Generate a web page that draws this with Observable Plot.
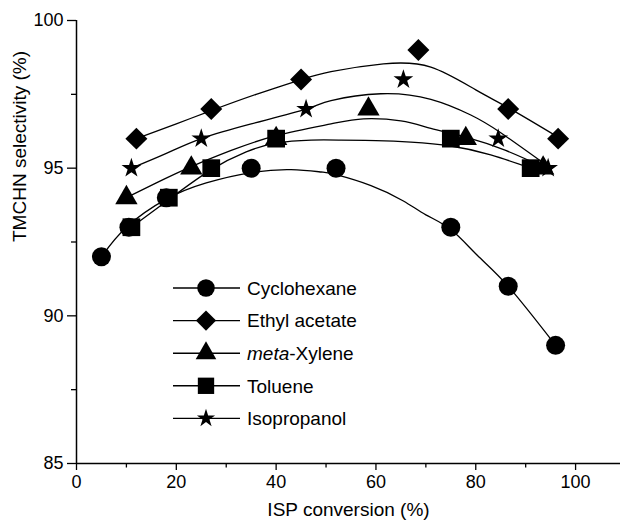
<!DOCTYPE html>
<html><head><meta charset="utf-8">
<script src="https://cdn.jsdelivr.net/npm/d3@7"></script>
<script src="https://cdn.jsdelivr.net/npm/@observablehq/plot@0.6"></script>
<style>body{margin:0;background:#fff}</style>
</head><body><div id="chart"></div>
<script>
// ---- data ----
const seriesNames = ["Cyclohexane", "Ethyl acetate", "meta-Xylene", "Toluene", "Isopropanol"];

const cyclohexaneX = [5, 10.5, 18, 35, 52, 75, 86.5, 96];
const cyclohexaneY = [92, 93, 94, 95, 95, 93, 91, 89];
const ethylAcetateX = [12, 27, 45, 68.5, 86.5, 96.5];
const ethylAcetateY = [96, 97, 98, 99, 97, 96];
const metaXyleneX = [10, 23, 40, 58.5, 78, 93.5];
const metaXyleneY = [94, 95, 96, 97, 96, 95];
const tolueneX = [11, 18.5, 27, 40, 75, 91];
const tolueneY = [93, 94, 95, 96, 96, 95];
const isopropanolX = [11, 25, 46, 65.5, 84.5, 94.5];
const isopropanolY = [95, 96, 97, 98, 96, 95];

// fitted curves
const cyclohexaneFitX = [5, 10, 18, 26, 35, 43, 49, 52, 59, 65.5, 70, 75, 80.3, 86.6, 96];
const cyclohexaneFitY = [92.0, 93.0, 93.95, 94.5, 94.85, 94.95, 94.87, 94.78, 94.41, 93.89, 93.42, 92.92, 92.05, 90.98, 89.0];
const ethylAcetateFitX = [12, 20, 27, 36, 45, 51, 61.5, 71, 80, 87, 97];
const ethylAcetateFitY = [96.0, 96.5, 96.95, 97.5, 98.0, 98.27, 98.53, 98.42, 97.65, 97.0, 96.0];
const metaXyleneFitX = [10, 16, 23, 31, 40, 51, 57.5, 65, 71, 78, 86, 94];
const metaXyleneFitY = [94.0, 94.5, 95.05, 95.6, 96.1, 96.5, 96.67, 96.6, 96.35, 96.05, 95.6, 95.0];
const tolueneFitX = [11, 19, 27, 34, 40, 47, 53, 60, 67, 75, 83, 91];
const tolueneFitY = [93.0, 94.0, 94.95, 95.55, 95.85, 95.95, 95.95, 95.93, 95.88, 95.75, 95.45, 95.0];
const isopropanolFitX = [11, 18, 25, 35, 46, 51, 61, 71, 79, 85, 95];
const isopropanolFitY = [95.0, 95.5, 96.0, 96.5, 97.0, 97.29, 97.52, 97.33, 96.8, 96.2, 95.0];

const xTicks = [0, 20, 40, 60, 80, 100];
const xMinorTicks = [10, 30, 50, 70, 90];
const yTicks = [85, 90, 95, 100];
const yMinorTicks = [87.5, 92.5, 97.5];
const xTitle = "ISP conversion (%)";
const yTitle = "TMCHN selectivity (%)";

// ---- styling ----
const FONT = "'Liberation Sans', Arial, Helvetica, sans-serif";
const series = [
  {name: seriesNames[0], x: cyclohexaneX, y: cyclohexaneY, fx: cyclohexaneFitX, fy: cyclohexaneFitY, symbol: "circle", d3sym: d3.symbolCircle, r: 9.5},
  {name: seriesNames[1], x: ethylAcetateX, y: ethylAcetateY, fx: ethylAcetateFitX, fy: ethylAcetateFitY, symbol: "diamond2", d3sym: d3.symbolDiamond2, r: 9.9},
  {name: seriesNames[2], x: metaXyleneX, y: metaXyleneY, fx: metaXyleneFitX, fy: metaXyleneFitY, symbol: "triangle", d3sym: d3.symbolTriangle, r: 8.3},
  {name: seriesNames[3], x: tolueneX, y: tolueneY, fx: tolueneFitX, fy: tolueneFitY, symbol: "square", d3sym: d3.symbolSquare, r: 10},
  {name: seriesNames[4], x: isopropanolX, y: isopropanolY, fx: isopropanolFitX, fy: isopropanolFitY, symbol: "star", d3sym: d3.symbolStar, r: 6.2}
];

function legend(index, scales, values, dimensions) {
  const g = d3.create("svg:g").attr("font-family", FONT).attr("font-size", 19).attr("text-anchor", "start");
  const left = dimensions.marginLeft + 97;
  const top = dimensions.marginTop + 268;
  series.forEach((s, i) => {
    const y = top + i * 32.6;
    g.append("line").attr("x1", left).attr("x2", left + 67).attr("y1", y).attr("y2", y)
      .attr("stroke", "black").attr("stroke-width", 1.4);
    g.append("path").attr("d", d3.symbol(s.d3sym, Math.PI * s.r * s.r * 0.85)())
      .attr("transform", `translate(${left + 33},${y})`).attr("fill", "black");
    const t = g.append("text").attr("x", left + 74).attr("y", y).attr("dy", "0.36em")
      .attr("fill", "black").attr("text-anchor", "start");
    if (s.name.startsWith("meta-")) {
      t.append("tspan").attr("font-style", "italic").text("meta");
      t.append("tspan").text(s.name.slice(4));
    } else t.text(s.name);
  });
  return g.node();
}

const marks = [
  Plot.ruleY([85], {stroke: "black", strokeWidth: 1.5}),
  Plot.ruleX([0], {y1: 85, y2: 100, stroke: "black", strokeWidth: 1.5}),
  Plot.axisX({ticks: xTicks, tickSize: 7, tickPadding: 5, tickFormat: d => String(d), label: null, strokeWidth: 1.3}),
  Plot.axisX({ticks: xMinorTicks, tickSize: 4.5, text: null, label: null, strokeWidth: 1.3}),
  Plot.axisY({ticks: yTicks, tickSize: 9, tickPadding: 4, tickFormat: d => String(d), label: null, strokeWidth: 1.3}),
  Plot.axisY({ticks: yMinorTicks, tickSize: 5, text: null, label: null, strokeWidth: 1.3}),
  Plot.text([xTitle], {frameAnchor: "bottom", dy: 52, lineAnchor: "bottom", fontSize: 19, fill: "black"}),
  Plot.text([yTitle], {frameAnchor: "left", dx: -57, rotate: -90, fontSize: 19, fill: "black"}),
];
for (const s of series) {
  marks.push(Plot.line(s.fx, {x: s.fx, y: s.fy, curve: "natural", stroke: "black", strokeWidth: 1.3}));
}
for (const s of series) {
  marks.push(Plot.dot(s.x, {x: s.x, y: s.y, symbol: s.symbol, r: s.r, fill: "black", stroke: "none"}));
}
marks.push(legend);

const chart = Plot.plot({
  width: 622, height: 522,
  marginLeft: 76, marginRight: 2, marginTop: 20, marginBottom: 59,
  style: {fontFamily: FONT, fontSize: "18px", background: "white", color: "black"},
  x: {domain: [0, 109]},
  y: {domain: [85, 100]},
  marks
});
document.getElementById("chart").appendChild(chart);
</script>
</body></html>
